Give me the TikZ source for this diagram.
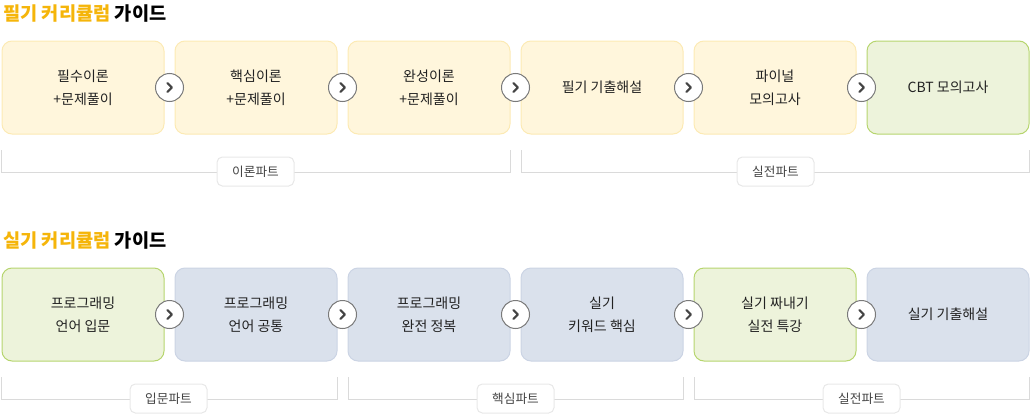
\documentclass[tikz,border=0pt]{standalone}
\usepackage{fontspec}
\setmainfont{Noto Sans CJK KR}
\usetikzlibrary{calc}

\definecolor{titleorange}{HTML}{F5B50A}
\definecolor{yellowfill}{HTML}{FFF6DC}
\definecolor{yellowline}{HTML}{FCEAB4}
\definecolor{greenfill}{HTML}{EDF3DB}
\definecolor{greenline}{HTML}{B6D56E}
\definecolor{bluefill}{HTML}{DAE1EC}
\definecolor{blueline}{HTML}{CBD4E4}
\definecolor{bracketgray}{HTML}{DADADA}
\definecolor{labelline}{HTML}{E8E8E8}
\definecolor{circlegray}{HTML}{7A7A7A}
\definecolor{textdark}{HTML}{222222}
\definecolor{textgray}{HTML}{444444}

\tikzset{
  card/.style={rounded corners=7.5pt, line width=0.75pt, minimum width=121.5pt,
    minimum height=69.75pt, align=center, text=textdark,
    font=\fontsize{10.5}{17.25}\selectfont},
  yellowcard/.style={card, draw=yellowline, fill=yellowfill},
  greencard/.style={card, draw=greenline, fill=greenfill},
  bluecard/.style={card, draw=blueline, fill=bluefill},
  nextbtn/.style={circle, draw=circlegray, fill=white, line width=0.75pt,
    minimum size=21pt, inner sep=0pt,
    path picture={\draw[textgray, line width=1.5pt, line cap=round, line join=round]
      ([xshift=-1.6pt,yshift=3.4pt]path picture bounding box.center)
      -- ++(3.4pt,-3.4pt) -- ++(-3.4pt,-3.4pt);}},
  bracket/.style={draw=bracketgray, line width=0.75pt},
  partlabel/.style={draw=labelline, fill=white, rounded corners=4pt, line width=0.75pt,
    minimum width=57.75pt, minimum height=21.75pt, inner sep=0pt, text=textgray,
    font=\fontsize{9.5}{11}\selectfont},
  heading/.style={anchor=west, inner sep=0pt, font=\bfseries\fontsize{14}{17}\selectfont}
}

\begin{document}
\begin{tikzpicture}[x=0.75pt, y=-0.75pt]
    \useasboundingbox (0,0) rectangle (1031,414);

    % Titles
    \node[heading] (ftitle) at (3,14) {\textcolor{titleorange}{필기 커리큘럼} 가이드};
    \node[heading] (stitle) at (3,241) {\textcolor{titleorange}{실기 커리큘럼} 가이드};

    % -- written exam row
    \node[yellowcard] (fb1) at (83,87.5) {필수이론\\+문제풀이};
    \node[yellowcard] (fb2) at (256,87.5) {핵심이론\\+문제풀이};
    \node[yellowcard] (fb3) at (429,87.5) {완성이론\\+문제풀이};
    \node[yellowcard] (fb4) at (602,87.5) {필기 기출해설};
    \node[yellowcard] (fb5) at (775,87.5) {파이널\\모의고사};
    \node[greencard] (fb6) at (948,87.5) {CBT 모의고사};

    % -- practical exam row
    \node[greencard] (sb1) at (83,314.5) {프로그래밍\\언어 입문};
    \node[bluecard] (sb2) at (256,314.5) {프로그래밍\\언어 공통};
    \node[bluecard] (sb3) at (429,314.5) {프로그래밍\\완전 정복};
    \node[bluecard] (sb4) at (602,314.5) {실기\\키워드 핵심};
    \node[greencard] (sb5) at (775,314.5) {실기 짜내기\\실전 특강};
    \node[bluecard] (sb6) at (948,314.5) {실기 기출해설};

    % Next buttons
    \node[nextbtn] (fa1) at ($(fb1.east)!0.5!(fb2.west)$) {};
    \node[nextbtn] (fa2) at ($(fb2.east)!0.5!(fb3.west)$) {};
    \node[nextbtn] (fa3) at ($(fb3.east)!0.5!(fb4.west)$) {};
    \node[nextbtn] (fa4) at ($(fb4.east)!0.5!(fb5.west)$) {};
    \node[nextbtn] (fa5) at ($(fb5.east)!0.5!(fb6.west)$) {};
    \node[nextbtn] (sa1) at ($(sb1.east)!0.5!(sb2.west)$) {};
    \node[nextbtn] (sa2) at ($(sb2.east)!0.5!(sb3.west)$) {};
    \node[nextbtn] (sa3) at ($(sb3.east)!0.5!(sb4.west)$) {};
    \node[nextbtn] (sa4) at ($(sb4.east)!0.5!(sb5.west)$) {};
    \node[nextbtn] (sa5) at ($(sb5.east)!0.5!(sb6.west)$) {};

    % Part brackets
    \draw[bracket] (1,150) -- (1,172) -- (510,172) -- (510,150);
    \draw[bracket] (521,150) -- (521,172) -- (1029,172) -- (1029,150);
    \draw[bracket] (1,377) -- (1,399) -- (337,399) -- (337,377);
    \draw[bracket] (348,377) -- (348,399) -- (683,399) -- (683,377);
    \draw[bracket] (694,377) -- (694,399) -- (1029,399) -- (1029,377);

    % Part labels
    \node[partlabel] (fp1) at (255.5,171.5) {이론파트};
    \node[partlabel] (fp2) at (775.5,171.5) {실전파트};
    \node[partlabel] (sp1) at (168.5,398.5) {입문파트};
    \node[partlabel] (sp2) at (515.5,398.5) {핵심파트};
    \node[partlabel] (sp3) at (861.5,398.5) {실전파트};
\end{tikzpicture}
\end{document}
